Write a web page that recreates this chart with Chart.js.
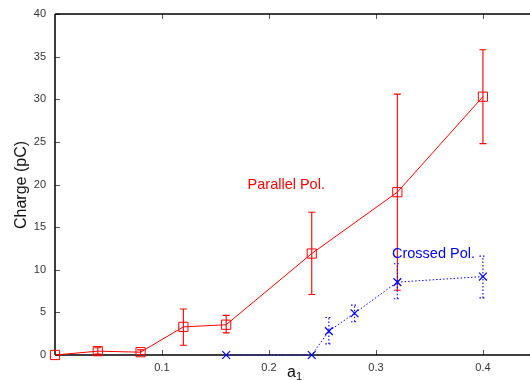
<!DOCTYPE html>
<html><head><meta charset="utf-8">
<script src="https://cdn.jsdelivr.net/npm/chart.js@4/dist/chart.umd.min.js"></script>
<style>html,body{margin:0;padding:0;background:#fff}#wrap{width:530px;height:380px}</style>
</head><body><div id="wrap"><canvas id="c" width="530" height="380"></canvas></div>
<script>
// ---- data ----
const parallelX    = [0, 0.04, 0.08, 0.12, 0.16, 0.24, 0.32, 0.40];
const parallelY    = [0, 0.45, 0.33, 3.3, 3.55, 11.9, 19.1, 30.3];
const parallelLow  = [0, 0.1, 0.05, 1.15, 2.6, 7.1, 7.6, 24.8];
const parallelHigh = [0, 0.85, 0.6, 5.4, 4.65, 16.75, 30.6, 35.8];

const crossedX    = [0.16, 0.24, 0.256, 0.28, 0.32, 0.40];
const crossedY    = [0, 0, 2.8, 4.9, 8.55, 9.2];
const crossedLow  = [0, 0, 1.3, 3.9, 6.6, 6.7];
const crossedHigh = [0, 0, 4.4, 5.85, 10.7, 11.6];

const xTickValues = [0.1, 0.2, 0.3, 0.4];
const yTickValues = [0, 5, 10, 15, 20, 25, 30, 35, 40];

const labelParallel = {text: 'Parallel Pol.', x: 0.180, y: 20.0};
const labelCrossed  = {text: 'Crossed Pol.', x: 0.315, y: 11.9};
const yTitle = 'Charge (pC)';
const xTitleMain = 'a', xTitleSub = '1';

const FONT = "'Liberation Sans', Arial, Helvetica, sans-serif";

const errorBars = {
  id: 'errorBars',
  beforeDatasetsDraw(chart) {
    const ctx = chart.ctx, xs = chart.scales.x, ys = chart.scales.y;
    const sets = [
      {x: parallelX, lo: parallelLow, hi: parallelHigh, color: 'rgb(255,0,0)', dash: []},
      {x: crossedX, lo: crossedLow, hi: crossedHigh, color: 'rgb(0,0,255)', dash: [1.5, 2]}
    ];
    ctx.save();
    ctx.lineWidth = 1.1;
    for (const s of sets) {
      ctx.strokeStyle = s.color;
      ctx.setLineDash(s.dash);
      s.x.forEach((xv, i) => {
        if (s.hi[i] - s.lo[i] <= 0) return;
        const px = xs.getPixelForValue(xv);
        const y1 = ys.getPixelForValue(s.lo[i]);
        const y2 = ys.getPixelForValue(s.hi[i]);
        ctx.beginPath();
        ctx.moveTo(px, y1); ctx.lineTo(px, y2);
        ctx.moveTo(px - 3.5, y1); ctx.lineTo(px + 3.5, y1);
        ctx.moveTo(px - 3.5, y2); ctx.lineTo(px + 3.5, y2);
        ctx.stroke();
      });
    }
    ctx.restore();
  }
};

const frame = {
  id: 'frame',
  beforeDatasetsDraw(chart) {
    const ctx = chart.ctx, a = chart.chartArea, xs = chart.scales.x, ys = chart.scales.y;
    ctx.save();
    // inward ticks
    ctx.strokeStyle = '#555';
    ctx.lineWidth = 1;
    ctx.beginPath();
    xTickValues.forEach(v => {
      const px = Math.round(xs.getPixelForValue(v)) + 0.5;
      ctx.moveTo(px, a.bottom); ctx.lineTo(px, a.bottom - 5);
      ctx.moveTo(px, a.top); ctx.lineTo(px, a.top + 5);
    });
    yTickValues.forEach(v => {
      const py = Math.round(ys.getPixelForValue(v)) + 0.5;
      ctx.moveTo(a.left, py); ctx.lineTo(a.left + 5, py);
    });
    ctx.stroke();
    // frame lines
    ctx.strokeStyle = '#000';
    ctx.lineWidth = 1.5;
    ctx.beginPath();
    ctx.moveTo(a.left, a.top); ctx.lineTo(a.right, a.top);
    ctx.moveTo(a.left, a.top); ctx.lineTo(a.left, a.bottom);
    ctx.moveTo(a.left, a.bottom); ctx.lineTo(a.right, a.bottom);
    ctx.stroke();
    ctx.restore();
  },
  afterDraw(chart) {
    const ctx = chart.ctx, xs = chart.scales.x, ys = chart.scales.y;
    ctx.save();
    ctx.textBaseline = 'middle';
    ctx.textAlign = 'left';
    ctx.font = '14.5px ' + FONT;
    ctx.fillStyle = '#ff0000';
    ctx.fillText(labelParallel.text, xs.getPixelForValue(labelParallel.x), ys.getPixelForValue(labelParallel.y));
    ctx.fillStyle = '#0000ff';
    ctx.fillText(labelCrossed.text, xs.getPixelForValue(labelCrossed.x), ys.getPixelForValue(labelCrossed.y));
    // y title
    ctx.fillStyle = '#111';
    ctx.font = '16px ' + FONT;
    ctx.translate(22, 185);
    ctx.rotate(-Math.PI / 2);
    ctx.textAlign = 'center';
    ctx.fillText(yTitle, 0, 0);
    ctx.restore();
    // x title
    ctx.save();
    ctx.fillStyle = '#111';
    ctx.textBaseline = 'alphabetic';
    ctx.font = '16px ' + FONT;
    ctx.fillText(xTitleMain, 287, 376.5);
    ctx.font = '11px ' + FONT;
    ctx.fillText(xTitleSub, 296, 380);
    ctx.restore();
  }
};

function zeroPad(s) { s.paddingLeft = 0; s.paddingRight = 0; s.paddingTop = 0; s.paddingBottom = 0; }

new Chart(document.getElementById('c'), {
  type: 'scatter',
  data: {
    datasets: [
      {
        label: 'Parallel Pol.',
        data: parallelX.map((x, i) => ({x, y: parallelY[i]})),
        showLine: true, tension: 0,
        borderColor: '#ff0000', borderWidth: 1,
        pointStyle: 'rect', pointRadius: 6.5, pointHoverRadius: 6.5,
        pointBorderColor: '#ff0000', pointBackgroundColor: 'rgba(0,0,0,0)', pointBorderWidth: 1,
        clip: false
      },
      {
        label: 'Crossed Pol.',
        data: crossedX.map((x, i) => ({x, y: crossedY[i]})),
        showLine: true, tension: 0,
        borderColor: '#0000ff', borderWidth: 1, borderDash: [1.5, 2],
        pointStyle: 'crossRot', pointRadius: 5.5, pointHoverRadius: 5.5,
        pointBorderColor: '#0000ff', pointBackgroundColor: '#0000ff', pointBorderWidth: 1.2,
        clip: false
      }
    ]
  },
  options: {
    responsive: false, animation: false, devicePixelRatio: 1,
    layout: {autoPadding: false, padding: {top: 14, right: 0, left: 0, bottom: 0}},
    plugins: {legend: {display: false}, tooltip: {enabled: false}},
    scales: {
      x: {
        type: 'linear', min: 0, max: 0.444,
        afterBuildTicks: s => { s.ticks = xTickValues.map(v => ({value: v})); },
        afterFit: s => { s.height = 25; zeroPad(s); },
        grid: {display: false, drawTicks: false},
        border: {display: false},
        ticks: {color: '#333', font: {family: FONT, size: 11}, padding: 6, maxRotation: 0, autoSkip: false,
                callback: v => Number(v).toFixed(1)}
      },
      y: {
        type: 'linear', min: 0, max: 40,
        afterBuildTicks: s => { s.ticks = yTickValues.map(v => ({value: v})); },
        afterFit: s => { s.width = 55; zeroPad(s); },
        grid: {display: false, drawTicks: false},
        border: {display: false},
        ticks: {color: '#333', font: {family: FONT, size: 11}, padding: 9, autoSkip: false,
                callback: v => String(v)}
      }
    }
  },
  plugins: [frame, errorBars]
});
</script>
</body></html>
